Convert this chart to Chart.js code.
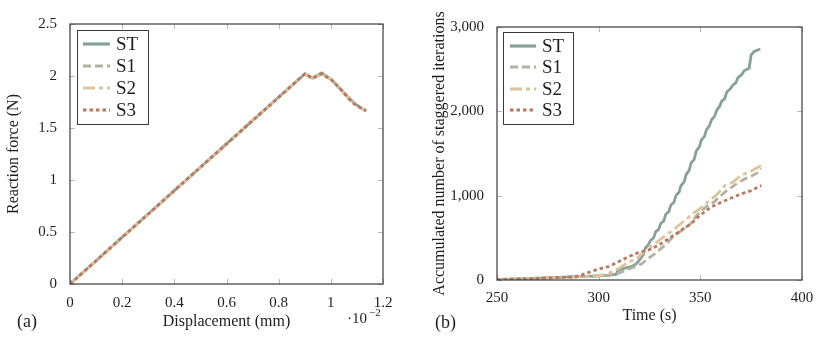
<!DOCTYPE html>
<html>
<head>
<meta charset="utf-8">
<script src="https://cdn.jsdelivr.net/npm/chart.js@4"></script>
<style>
  html, body { margin: 0; padding: 0; background: #fff; }
  #wrap { position: relative; width: 831px; height: 343px; }
  canvas { position: absolute; top: 0; }
  #chartFuerza { left: 0; }
  #chartIter { left: 416px; }
</style>
</head>
<body>
<div id="wrap">
  <canvas id="chartFuerza" width="415" height="343"></canvas>
  <canvas id="chartIter" width="415" height="343"></canvas>
</div>
<script>
// (a) reaction force vs displacement (x in 1e-2 mm)
const disp = [0, 0.1, 0.2, 0.3, 0.4, 0.5, 0.6, 0.7, 0.8, 0.9, 0.93, 0.965, 1.0, 1.035, 1.065, 1.09, 1.11, 1.135];
const forceST = [0, 0.224, 0.449, 0.673, 0.898, 1.122, 1.347, 1.571, 1.796, 2.02, 1.98, 2.03, 1.97, 1.88, 1.80, 1.74, 1.70, 1.665];
const forceS1 = [0, 0.224, 0.449, 0.673, 0.898, 1.122, 1.347, 1.571, 1.796, 2.02, 1.98, 2.02, 1.97, 1.88, 1.80, 1.74, 1.70, 1.665];
const forceS2 = [0, 0.224, 0.449, 0.673, 0.898, 1.122, 1.347, 1.571, 1.796, 2.02, 1.98, 2.02, 1.97, 1.88, 1.79, 1.74, 1.70, 1.665];
const forceS3 = [0, 0.224, 0.449, 0.673, 0.898, 1.122, 1.347, 1.571, 1.796, 2.02, 1.98, 2.02, 1.97, 1.88, 1.79, 1.73, 1.70, 1.665];
const dispTicks = [0, 0.2, 0.4, 0.6, 0.8, 1, 1.2];
const dispLabels = ["0", "0.2", "0.4", "0.6", "0.8", "1", "1.2"];
const forceTicks = [0, 0.5, 1, 1.5, 2, 2.5];
const forceLabels = ["0", "0.5", "1", "1.5", "2", "2.5"];

// (b) accumulated staggered iterations vs time
const timeST = [250, 260, 270, 280, 290, 300, 305, 308.5, 309.5, 312, 316, 318.5, 320.5, 322, 323, 324.5, 325.5, 327, 328, 329.5, 330.5, 332, 333, 334.5, 335.5, 337, 338, 339.5, 340.5, 342, 343, 344.5, 345.5, 347, 348, 349.5, 350.5, 352, 353, 354.5, 355.5, 357, 358, 359.5, 360.5, 362, 363, 364.5, 366, 367.5, 368.5, 370.5, 371.5, 374, 375, 376.5, 379.5];
const iterST = [8, 14, 22, 30, 40, 50, 57, 65, 115, 135, 160, 190, 250, 300, 380, 420, 470, 500, 570, 600, 670, 700, 780, 810, 890, 920, 1000, 1040, 1120, 1160, 1250, 1300, 1390, 1430, 1530, 1580, 1660, 1700, 1780, 1830, 1900, 1940, 2010, 2060, 2120, 2150, 2230, 2260, 2310, 2340, 2400, 2440, 2480, 2510, 2670, 2710, 2740];
const timeS1 = [250, 270, 290, 300, 305, 310, 314, 318, 321, 324, 327, 330, 333, 336, 339, 342, 345, 348, 351, 354, 357, 360, 363, 366, 369, 372, 375, 378, 380];
const iterS1 = [5, 18, 38, 48, 55, 80, 120, 160, 190, 250, 300, 360, 420, 500, 555, 610, 660, 760, 830, 890, 930, 1000, 1060, 1110, 1160, 1200, 1230, 1270, 1320];
const timeS2 = [250, 270, 290, 300, 305, 310, 315, 319, 323, 327, 332, 336, 339, 343, 347, 350, 355, 358, 362, 366, 370, 374, 378, 380];
const iterS2 = [5, 18, 38, 50, 80, 140, 215, 260, 350, 420, 510, 580, 640, 720, 800, 850, 950, 1010, 1120, 1160, 1240, 1280, 1330, 1360];
const timeS3 = [250, 270, 285, 290, 295, 300, 305, 310, 315, 320, 325, 330, 335, 340, 345, 350, 355, 360, 365, 370, 375, 380];
const iterS3 = [5, 18, 35, 45, 90, 130, 160, 220, 280, 330, 360, 420, 500, 580, 660, 770, 860, 920, 970, 1020, 1060, 1120];
const timeTicks = [250, 300, 350, 400];
const timeLabels = ["250", "300", "350", "400"];
const iterTicks = [0, 1000, 2000, 3000];
const iterLabels = ["0", "1,000", "2,000", "3,000"];

const SERIES = ["ST", "S1", "S2", "S3"];
const COLORES = ["#86a298", "#b0b3a0", "#dcc49b", "#b9785f"];
const DASHES = [[], [8, 4], [12, 4, 4, 4], [3.5, 3]];
const FUENTE = "'Liberation Serif', 'DejaVu Serif', serif";
const TINTA = "#1e1e1e";

function puntos(xs, ys) {
  return xs.map((x, i) => ({ x: x, y: ys[i] }));
}

function serie(i, xs, ys) {
  return {
    label: SERIES[i],
    data: puntos(xs, ys),
    borderColor: COLORES[i],
    backgroundColor: COLORES[i],
    borderWidth: 2.8,
    borderDash: DASHES[i],
    borderCapStyle: "butt",
    pointRadius: 0,
    tension: 0,
    order: 3 - i,
  };
}

// frame + inward ticks like pgfplots, legend box and panel notes
const pgfPlugin = {
  id: "pgf",
  beforeDatasetsDraw(chart) {
    const { ctx, chartArea: a } = chart;
    const xs = chart.scales.x, ys = chart.scales.y;
    ctx.save();
    ctx.strokeStyle = "#b8b8b8";
    ctx.lineWidth = 1;
    ctx.beginPath();
    xs.ticks.forEach((t) => {
      const px = Math.round(xs.getPixelForValue(t.value)) + 0.5;
      ctx.moveTo(px, a.bottom); ctx.lineTo(px, a.bottom - 5);
      ctx.moveTo(px, a.top); ctx.lineTo(px, a.top + 5);
    });
    ys.ticks.forEach((t) => {
      const py = Math.round(ys.getPixelForValue(t.value)) + 0.5;
      ctx.moveTo(a.left, py); ctx.lineTo(a.left + 5, py);
      ctx.moveTo(a.right, py); ctx.lineTo(a.right - 5, py);
    });
    ctx.stroke();
    ctx.restore();
  },
  afterDraw(chart, args, opts) {
    const { ctx, chartArea: a } = chart;
    ctx.save();
    ctx.strokeStyle = "#3a3a3a";
    ctx.lineWidth = 1.2;
    ctx.strokeRect(a.left, a.top, a.right - a.left, a.bottom - a.top);

    const lg = opts.legend;
    ctx.fillStyle = "#fff";
    ctx.fillRect(a.left + lg.x, a.top + lg.y, lg.w, lg.h);
    ctx.lineWidth = 1;
    ctx.strokeStyle = "#3a3a3a";
    ctx.strokeRect(a.left + lg.x + 0.5, a.top + lg.y + 0.5, lg.w, lg.h);
    ctx.font = "19px " + FUENTE;
    ctx.textBaseline = "middle";
    ctx.textAlign = "left";
    chart.data.datasets.forEach((ds, i) => {
      const y = a.top + lg.rows[i];
      ctx.save();
      ctx.strokeStyle = ds.borderColor;
      ctx.lineWidth = ds.borderWidth + 0.4;
      ctx.setLineDash(ds.borderDash);
      ctx.beginPath();
      ctx.moveTo(a.left + lg.x0, y);
      ctx.lineTo(a.left + lg.x1, y);
      ctx.stroke();
      ctx.restore();
      ctx.fillStyle = TINTA;
      ctx.fillText(ds.label, a.left + lg.tx, y + 1);
    });

    ctx.fillStyle = TINTA;
    (opts.notes || []).forEach((n) => {
      ctx.font = n.size + "px " + FUENTE;
      ctx.textAlign = n.align || "left";
      ctx.fillText(n.text, n.x, n.y);
    });
    ctx.restore();
  },
};

function ejes(xMin, xMax, xTicks, xLabels, xTitle, xTitlePad, xHeight, xLabPad,
              yMin, yMax, yTicks, yLabels, yTitle, yTitlePad, yWidth) {
  return {
    x: {
      type: "linear", min: xMin, max: xMax,
      grid: { display: false }, border: { display: false },
      afterBuildTicks: (s) => { s.ticks = xTicks.map((v) => ({ value: v })); },
      afterFit: (s) => { s.height = xHeight; },
      ticks: {
        autoSkip: false, maxRotation: 0, padding: xLabPad, color: TINTA,
        font: { family: FUENTE, size: 15 },
        callback: (v) => xLabels[xTicks.indexOf(v)],
      },
      title: { display: true, text: xTitle, color: TINTA, font: { family: FUENTE, size: 16 }, padding: { top: 0, bottom: xTitlePad } },
    },
    y: {
      type: "linear", min: yMin, max: yMax,
      grid: { display: false }, border: { display: false },
      afterBuildTicks: (s) => { s.ticks = yTicks.map((v) => ({ value: v })); },
      afterFit: (s) => { s.width = yWidth; },
      ticks: {
        autoSkip: false, padding: 5, color: TINTA,
        font: { family: FUENTE, size: 15 },
        callback: (v) => yLabels[yTicks.indexOf(v)],
      },
      title: { display: true, text: yTitle, color: TINTA, font: { family: FUENTE, size: 16 }, padding: { top: yTitlePad, bottom: 0 } },
    },
  };
}

new Chart(document.getElementById("chartFuerza"), {
  type: "line",
  data: {
    datasets: [
      serie(0, disp, forceST),
      serie(1, disp, forceS1),
      serie(2, disp, forceS2),
      serie(3, disp, forceS3),
    ],
  },
  options: {
    responsive: false, animation: false, devicePixelRatio: 1,
    layout: { padding: { top: 24, right: 32, left: 0, bottom: 0 } },
    scales: ejes(0, 1.2, dispTicks, dispLabels, "Displacement (mm)", 12, 59, 2,
                 0, 2.5, forceTicks, forceLabels, "Reaction force (N)", 4, 70),
    plugins: {
      legend: { display: false },
      tooltip: { enabled: false },
      pgf: {
        legend: { x: 7, y: 6, w: 71, h: 94, rows: [20, 42, 64, 86], x0: 13, x1: 40, tx: 46 },
        notes: [
          { text: "(a)", x: 17, y: 322, size: 18 },
          { text: "\u00b710", x: 347, y: 319, size: 15 },
          { text: "\u22122", x: 369, y: 313, size: 11 },
        ],
      },
    },
  },
  plugins: [pgfPlugin],
});

new Chart(document.getElementById("chartIter"), {
  type: "line",
  data: {
    datasets: [
      serie(0, timeST, iterST),
      serie(1, timeS1, iterS1),
      serie(2, timeS2, iterS2),
      serie(3, timeS3, iterS3),
    ],
  },
  options: {
    responsive: false, animation: false, devicePixelRatio: 1,
    layout: { padding: { top: 27, right: 29, left: 0, bottom: 0 } },
    scales: ejes(250, 400, timeTicks, timeLabels, "Time (s)", 18, 63, 1,
                 0, 3000, iterTicks, iterLabels, "Accumulated number of staggered iterations", 14, 81),
    plugins: {
      legend: { display: false },
      tooltip: { enabled: false },
      pgf: {
        legend: { x: 6, y: 5, w: 70, h: 92, rows: [19, 40, 62, 83], x0: 13, x1: 39, tx: 45 },
        notes: [
          { text: "(b)", x: 19, y: 323, size: 18 },
        ],
      },
    },
  },
  plugins: [pgfPlugin],
});
</script>
</body>
</html>
